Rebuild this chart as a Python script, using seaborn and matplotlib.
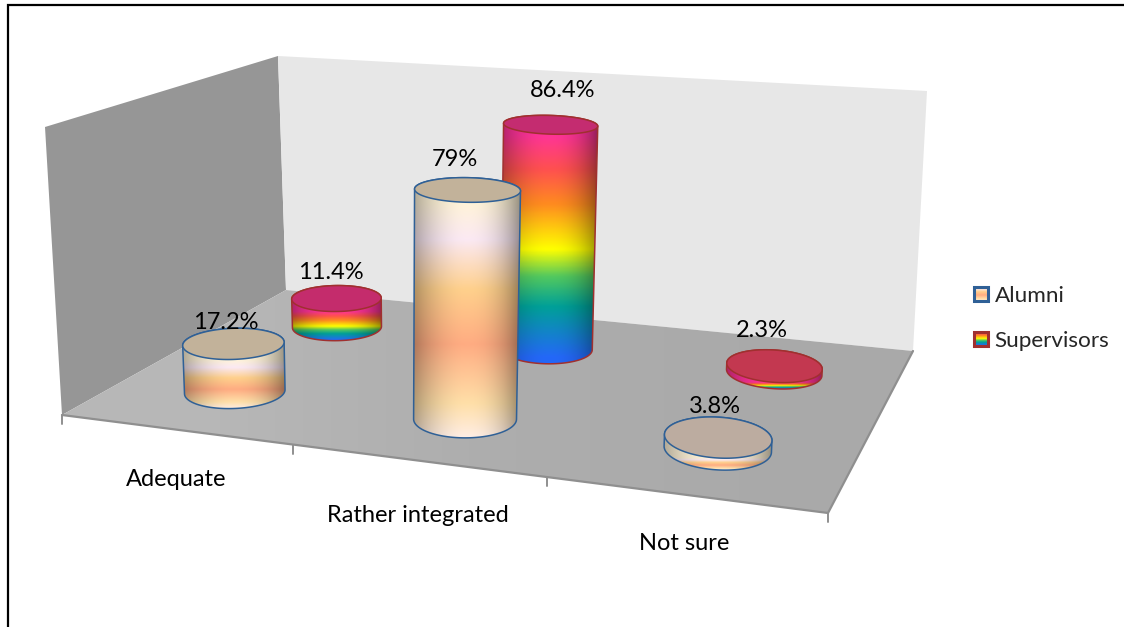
import numpy as np
import matplotlib
matplotlib.use("Agg")
import matplotlib.pyplot as plt
from matplotlib.patches import Patch, Polygon
import seaborn as sns

# Survey answers, in percent
categories = ["Adequate", "Rather integrated", "Not sure"]
alumni = [17.2, 79.0, 3.8]
supervisors = [11.4, 86.4, 2.3]
series_names = ["Alumni", "Supervisors"]
value_labels_alumni = ["17.2%", "79%", "3.8%"]
value_labels_supervisors = ["11.4%", "86.4%", "2.3%"]

W, H = 1124, 627
AXIS_MAX = 100.0

# Box corners on the canvas: front-left, front-right, back-right, back-left
FLOOR = [(62, 415), (828, 513), (913, 351), (286, 290)]
CEILING = [(45, 127), (842, 181), (927, 91), (278, 56)]

# Gradient stops (position, colour) down the front of each series' cylinder walls
ALUMNI_STOPS = [(0.0, "#FFF3D8"), (0.157, "#FBE9F3"), (0.37, "#FFD08C"),
                (0.6, "#FFAC82"), (0.85, "#FFDFA8"), (1.0, "#FFEEE6")]
SUPERVISOR_STOPS = [(0.0, "#FF3399"), (0.15, "#FF5050"), (0.3, "#FF8A20"),
                    (0.5, "#FFFF00"), (0.62, "#50C860"), (0.75, "#00A098"), (0.97, "#2468F8"), (1.0, "#2468F8")]
ALUMNI_TOPS = ["#C2B29A", "#C2B29A", "#BCACA0"]
SUPERVISOR_TOPS = ["#C42C6C", "#C42C70", "#C33850"]
ALUMNI_EDGE = "#2F6096"
SUPERVISOR_EDGE = "#A0302F"

LABEL_OFFSETS_ALUMNI = [(-8, -21), (-13, -30), (-3, -30)]
LABEL_OFFSETS_SUPERVISORS = [(-6, -26), (12, -34), (-13, -35)]
TICK_LABEL_POS = [(176, 480), (418, 516), (684, 544)]
DEPTHS = [0.25, 0.75]
RADIUS_U, RADIUS_V = 0.065, 0.115
ELLIPSE_SHEAR = 0.045


def unit_square_homography(corners):
    src = [(0, 0), (1, 0), (1, 1), (0, 1)]
    A, b = [], []
    for (u, v), (x, y) in zip(src, corners):
        A.append([u, v, 1, 0, 0, 0, -u * x, -v * x])
        A.append([0, 0, 0, u, v, 1, -u * y, -v * y])
        b += [x, y]
    return np.append(np.linalg.solve(np.array(A, float), np.array(b, float)), 1).reshape(3, 3)


H_FLOOR = unit_square_homography(FLOOR)
H_CEIL = unit_square_homography(CEILING)


def apply_h(M, u, v):
    p = M @ np.vstack([u, v, np.ones_like(u)])
    return p[:2] / p[2]


def project(u, v, value):
    u, v = np.atleast_1d(u, v)
    lo, hi = apply_h(H_FLOOR, u, v), apply_h(H_CEIL, u, v)
    return (lo + (hi - lo) * value / AXIS_MAX).T


def ramp(stops, n=512):
    parts = []
    for (f0, c0), (f1, c1) in zip(stops[:-1], stops[1:]):
        parts.append(sns.blend_palette([c0, c1], n_colors=max(2, int(n * (f1 - f0)) + 1)))
    cols = np.array([c[:3] for part in parts for c in part])
    return cols[np.linspace(0, len(cols) - 1, n).astype(int)]


def gradient_image(stops, fractions, cols=120, edge_dark=0.0):
    table = ramp(stops)
    grad = table[(np.clip(fractions, 0, 1) * (len(table) - 1)).astype(int)][:, None, :]
    t = np.linspace(-1, 1, cols)[None, :, None]
    shade = 1 - edge_dark * np.abs(t) ** 2.2 * (1 + 0.15 * t)
    return np.clip(grad * shade, 0, 1)


def convex_hull(points):
    pts = sorted(map(tuple, points))
    def half(seq):
        out = []
        for p in seq:
            while len(out) > 1 and np.cross(np.subtract(out[-1], out[-2]), np.subtract(p, out[-1])) <= 0:
                out.pop()
            out.append(p)
        return out[:-1]
    return np.array(half(pts) + half(pts[::-1]))


def paint(ax, img, outline, z):
    x0, y0 = outline.min(axis=0)
    x1, y1 = outline.max(axis=0)
    im = ax.imshow(img, extent=(x0, x1, y1, y0), aspect="auto", interpolation="bilinear", zorder=z)
    clip = Polygon(outline, closed=True, transform=ax.transData, facecolor="none", edgecolor="none")
    ax.add_patch(clip)
    im.set_clip_path(clip)


def disc(u, depth, value):
    theta = np.linspace(0, 2 * np.pi, 181)
    pts = project(u + RADIUS_U * np.cos(theta), depth + RADIUS_V * np.sin(theta), value)
    centre = project(u, depth, value)[0]
    pts[:, 1] += ELLIPSE_SHEAR * (pts[:, 0] - centre[0])
    return pts


def cylinder(ax, cat, depth, value, stops, top_colour, edge, z):
    u = (cat + 0.5) / len(categories)
    bottom, top = disc(u, depth, 0.0), disc(u, depth, value)
    hull = convex_hull(np.vstack([bottom, top]))
    # The gradient runs from the front of the top disc to the lowest point of the base
    y_front, y_low = top[:, 1].max(), bottom[:, 1].max()
    rows = np.linspace(hull[:, 1].min(), hull[:, 1].max(), 300)
    fractions = (rows - y_front) / max(y_low - y_front, 1.0)
    paint(ax, gradient_image(stops, fractions, edge_dark=0.36), hull, z)
    ax.add_patch(Polygon(hull, closed=True, facecolor="none", edgecolor=edge, lw=1.1, zorder=z + 0.1))
    ax.add_patch(Polygon(top, closed=True, facecolor=top_colour, edgecolor=edge, lw=1.1, zorder=z + 0.2))
    return project(u, depth, value)[0]


sns.set_theme(style="white")
plt.rcParams["font.family"] = ["Lato", "DejaVu Sans"]

fig = plt.figure(figsize=(W / 100, H / 100), dpi=100)
ax = fig.add_axes([0, 0, 1, 1])
ax.axis("off")

# Box: side wall, back wall, floor with its front and right rims
ax.add_patch(Polygon([FLOOR[0], FLOOR[3], CEILING[3], CEILING[0]], facecolor="#969696", edgecolor="none", zorder=1))
ax.add_patch(Polygon([FLOOR[3], FLOOR[2], CEILING[2], CEILING[3]], facecolor="#E7E7E7", edgecolor="none", zorder=1))
paint(ax, np.array([[[0.72] * 3, [0.68] * 3, [0.665] * 3]]), np.array(FLOOR, float), 2)
ax.plot(*np.array([FLOOR[0], FLOOR[1], FLOOR[2]]).T, color="#8F8F8F", lw=1.6, zorder=2.5)

for i in range(len(categories) + 1):
    x, y = project(i / len(categories), 0.0, 0.0)[0]
    ax.plot([x, x], [y, y + 9], color="#8F8F8F", lw=1.4, zorder=2.5)

for name, (tx, ty) in zip(categories, TICK_LABEL_POS):
    ax.text(tx, ty, name, ha="center", va="center", fontsize=17, color="black", zorder=8)

# Rear row first so the front row overlaps it
for i, v in enumerate(supervisors):
    cx, cy = cylinder(ax, i, DEPTHS[1], v, SUPERVISOR_STOPS, SUPERVISOR_TOPS[i], SUPERVISOR_EDGE, 3 + 0.01 * i)
    dx, dy = LABEL_OFFSETS_SUPERVISORS[i]
    ax.text(cx + dx, cy + dy, value_labels_supervisors[i], ha="center", va="center", fontsize=17, color="black", zorder=8)
for i, v in enumerate(alumni):
    cx, cy = cylinder(ax, i, DEPTHS[0], v, ALUMNI_STOPS, ALUMNI_TOPS[i], ALUMNI_EDGE, 5 + 0.01 * i)
    dx, dy = LABEL_OFFSETS_ALUMNI[i]
    ax.text(cx + dx, cy + dy, value_labels_alumni[i], ha="center", va="center", fontsize=17, color="black", zorder=8)

ax.set_xlim(0, W)
ax.set_ylim(H, 0)

# Legend with gradient swatches laid into its handles
handles = [Patch(facecolor="none", edgecolor=ALUMNI_EDGE, lw=2.2),
           Patch(facecolor="none", edgecolor=SUPERVISOR_EDGE, lw=2.2)]
leg = ax.legend(handles, series_names, loc="center left", bbox_to_anchor=(974 / W, 1 - 318.5 / H), frameon=False,
                fontsize=16.2, handlelength=0.62, handleheight=0.62, handletextpad=0.3, labelspacing=1.1,
                borderpad=0, borderaxespad=0)
fig.canvas.draw()
for patch, stops in zip(leg.get_patches(), [ALUMNI_STOPS, SUPERVISOR_STOPS]):
    bb = patch.get_window_extent().transformed(ax.transData.inverted())
    ax.imshow(gradient_image(stops, np.linspace(0, 1, 32), cols=4), extent=(bb.x0, bb.x1, bb.y0, bb.y1), aspect="auto", zorder=8)
leg.set_zorder(9)
ax.set_xlim(0, W)
ax.set_ylim(H, 0)

# Black rule around the top and left of the canvas
ax.plot([7.5, 7.5, W], [H, 5, 5], color="black", lw=1.6, zorder=10, clip_on=False, solid_joinstyle="miter")

fig.savefig("out.png", dpi=100)
